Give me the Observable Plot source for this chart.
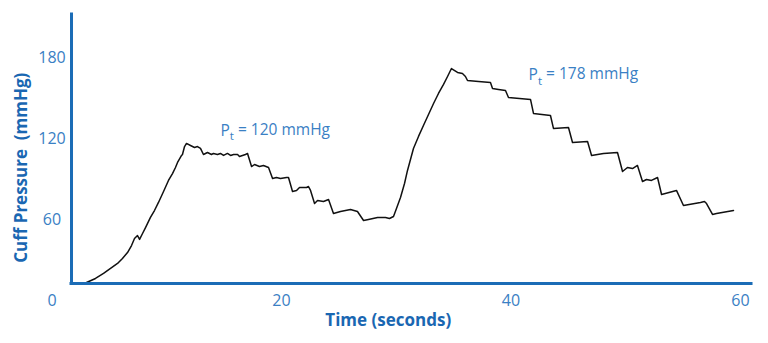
<!DOCTYPE html>
<html><head><meta charset="utf-8">
<script src="https://cdn.jsdelivr.net/npm/d3@7"></script>
<script src="https://cdn.jsdelivr.net/npm/@observablehq/plot@0.6"></script>
<style>
html,body{margin:0;padding:0;background:#fff;}
#chart svg{display:block;}
</style>
</head><body><div id="chart"></div>
<script>
// Time (s) and cuff pressure (mmHg)
const time = [3.01,3.79,4.49,5.10,5.71,6.14,6.58,6.93,7.19,7.45,7.63,7.89,8.15,8.58,8.93,9.28,9.72,10.15,10.50,10.76,10.94,11.29,11.37,11.55,11.72,12.07,12.42,12.68,12.94,13.20,13.55,13.90,14.07,14.42,14.68,14.95,15.29,15.56,15.82,16.17,16.34,16.86,17.04,17.12,17.39,17.65,18.08,18.43,18.87,19.22,19.56,19.91,20.44,20.61,20.96,21.31,21.57,21.92,22.18,22.35,22.53,22.88,23.14,23.66,24.10,24.53,25.14,26.01,26.62,27.15,27.58,28.37,29.06,29.41,29.76,30.02,30.37,30.72,30.98,31.50,31.94,32.37,32.81,33.25,33.68,34.12,34.47,34.81,35.34,35.77,36.03,36.21,37.17,38.21,38.39,38.91,39.52,39.78,41.70,41.96,43.44,43.70,45.01,45.36,46.67,47.02,48.06,49.28,49.72,50.15,50.59,51.02,51.46,51.81,52.24,52.77,53.12,54.42,55.03,56.51,56.86,57.04,57.56,57.91,59.39];
const pressure = [13.7,16.7,20.4,24.1,27.8,31.5,35.9,41.1,46.3,48.5,45.6,50.0,54.4,61.9,67.0,73.0,81.1,89.3,94.4,98.9,102.6,107.8,108.5,114.4,116.7,115.2,113.7,114.4,113.0,108.5,110.0,108.5,109.3,108.5,109.3,107.8,109.3,107.8,108.5,108.5,107.0,108.5,109.3,107.0,99.6,101.1,99.6,100.4,98.9,90.7,91.5,90.7,91.5,91.5,81.1,81.9,84.1,84.1,84.1,84.8,81.9,72.2,74.4,73.7,75.2,64.8,66.3,67.8,66.3,59.6,60.4,61.9,61.9,61.1,62.6,68.5,76.7,87.0,96.7,113.0,121.9,130.0,138.1,146.3,153.7,160.4,166.3,172.2,169.3,168.5,166.3,163.3,162.6,161.9,157.4,156.7,155.9,150.7,149.3,138.9,137.4,127.8,128.5,117.4,118.1,107.8,109.3,110.0,95.9,98.9,98.1,100.4,88.5,90.0,89.3,91.5,78.9,81.9,70.7,73.0,73.7,72.2,64.1,64.8,67.0];

const xTicks = [20, 40, 60];
const yTicks = [60, 120, 180];
const originTick = [0];
const annTime = [14.68, 41.53];
const annPressure = [125.6, 167.0];
const annValue = [120, 178];
const xLabel = "Time (seconds)";
const yLabel = "Cuff Pressure  (mmHg)";

const data = time.map((t, i) => ({t, p: pressure[i]}));
const anns = annTime.map((t, i) => ({t, p: annPressure[i], v: annValue[i]}));

// axis-line placement (data units) and styling
const AX = {xAt: 1.7, yAt: 13, xEnd: 60.96, yTop: 212.2};
const axisBlue = "#1b6cb6";
const labelBlue = "#1a67b2";
const tickBlue = "#3a80c4";
const font = "'Open Sans', 'Noto Sans', sans-serif";

const chart = Plot.plot({
  width: 768, height: 343,
  marginLeft: 51.5, marginRight: 28, marginTop: 14, marginBottom: 42.5,
  x: {domain: [0, 60], axis: null},
  y: {domain: [0, 212.2], axis: null},
  style: {fontFamily: font, background: "white"},
  marks: [
    Plot.line(data, {x: "t", y: "p", stroke: "#111", strokeWidth: 1.5, strokeLinejoin: "round"}),
    Plot.ruleX([AX.xAt], {y1: AX.yAt, y2: AX.yTop, stroke: axisBlue, strokeWidth: 3, strokeLinecap: "square"}),
    Plot.ruleY([AX.yAt], {x1: AX.xAt, x2: AX.xEnd, stroke: axisBlue, strokeWidth: 3, strokeLinecap: "square"}),
    Plot.text(xTicks, {x: d => d, y: 0, text: d => String(d), fill: tickBlue, fontSize: 16}),
    Plot.text(yTicks, {x: 0, y: d => d, text: d => String(d), fill: tickBlue, fontSize: 16}),
    Plot.text(originTick, {x: 0, y: 0, text: d => String(d), fill: tickBlue, fontSize: 16}),
    Plot.text(anns, {x: "t", y: "p", text: d => `P|t| = ${d.v} mmHg`, textAnchor: "start", fill: tickBlue, fontSize: 15.5}),
    Plot.text([xLabel], {frameAnchor: "bottom", textAnchor: "middle", dx: -8, dy: 25, fill: labelBlue, fontSize: 17, fontWeight: "bold"}),
    Plot.text([yLabel], {frameAnchor: "left", textAnchor: "middle", lineAnchor: "middle", rotate: -90, dx: -30.5, dy: 10, fill: labelBlue, fontSize: 17, fontWeight: "bold"})
  ]
});

// subscript "t" in annotation labels
chart.querySelectorAll("text").forEach(el => {
  const s = el.textContent;
  if (s.startsWith("P|t|")) {
    const rest = s.slice(4);
    el.textContent = "";
    const ns = "http://www.w3.org/2000/svg";
    const a = document.createElementNS(ns, "tspan"); a.textContent = "P";
    const b = document.createElementNS(ns, "tspan"); b.textContent = "t";
    b.setAttribute("dy", "0.35em"); b.setAttribute("font-size", "0.75em");
    const c = document.createElementNS(ns, "tspan"); c.textContent = rest;
    c.setAttribute("dy", "-0.35em");
    el.append(a, b, c);
  }
});

document.getElementById("chart").append(chart);
</script>
</body></html>
